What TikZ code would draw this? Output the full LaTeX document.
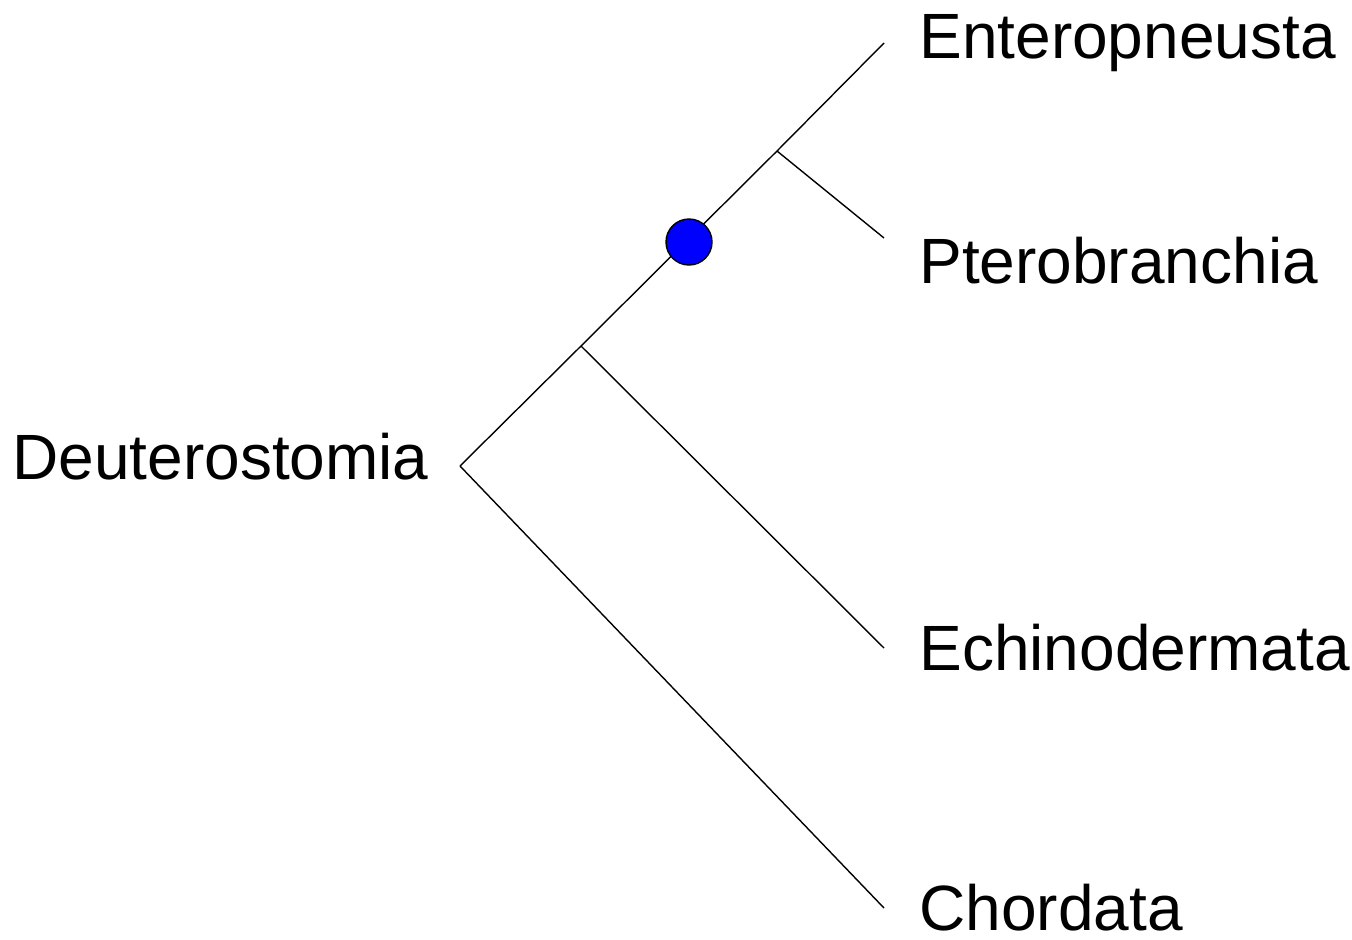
\documentclass[tikz,border=0pt]{standalone}
\usepackage{fontspec}
\setmainfont{Liberation Sans}
\begin{document}
\begin{tikzpicture}[x=0.5pt,y=-0.5pt,
  lbl/.style={anchor=base west,inner sep=0pt,font=\fontsize{32}{38}\selectfont},
  br/.style={line width=0.7pt,black}]
\useasboundingbox (0,0) rectangle (1352,939);
\coordinate (root) at (460,466);
\coordinate (n1) at (581,346);
\coordinate (n2) at (777,151);
\coordinate (tE) at (884,43);
\coordinate (tP) at (884,238);
\coordinate (tEc) at (884,648);
\coordinate (tC) at (884,908);
\draw[br] (root) -- (n1) -- (n2) -- (tE);
\draw[br] (n2) -- (tP);
\draw[br] (n1) -- (tEc);
\draw[br] (root) -- (tC);
\node[circle,draw=black,line width=0.7pt,fill=blue,minimum size=23pt,inner sep=0pt] (dot) at (689,242) {};
\node[lbl] (lE) at (919,58) {Enteropneusta};
\node[lbl] (lP) at (919,283) {Pterobranchia};
\node[lbl] (lEc) at (919,670) {Echinodermata};
\node[lbl] (lC) at (919,930) {Chordata};
\node[lbl] (lD) at (12,479) {Deuterostomia};
\end{tikzpicture}
\end{document}
